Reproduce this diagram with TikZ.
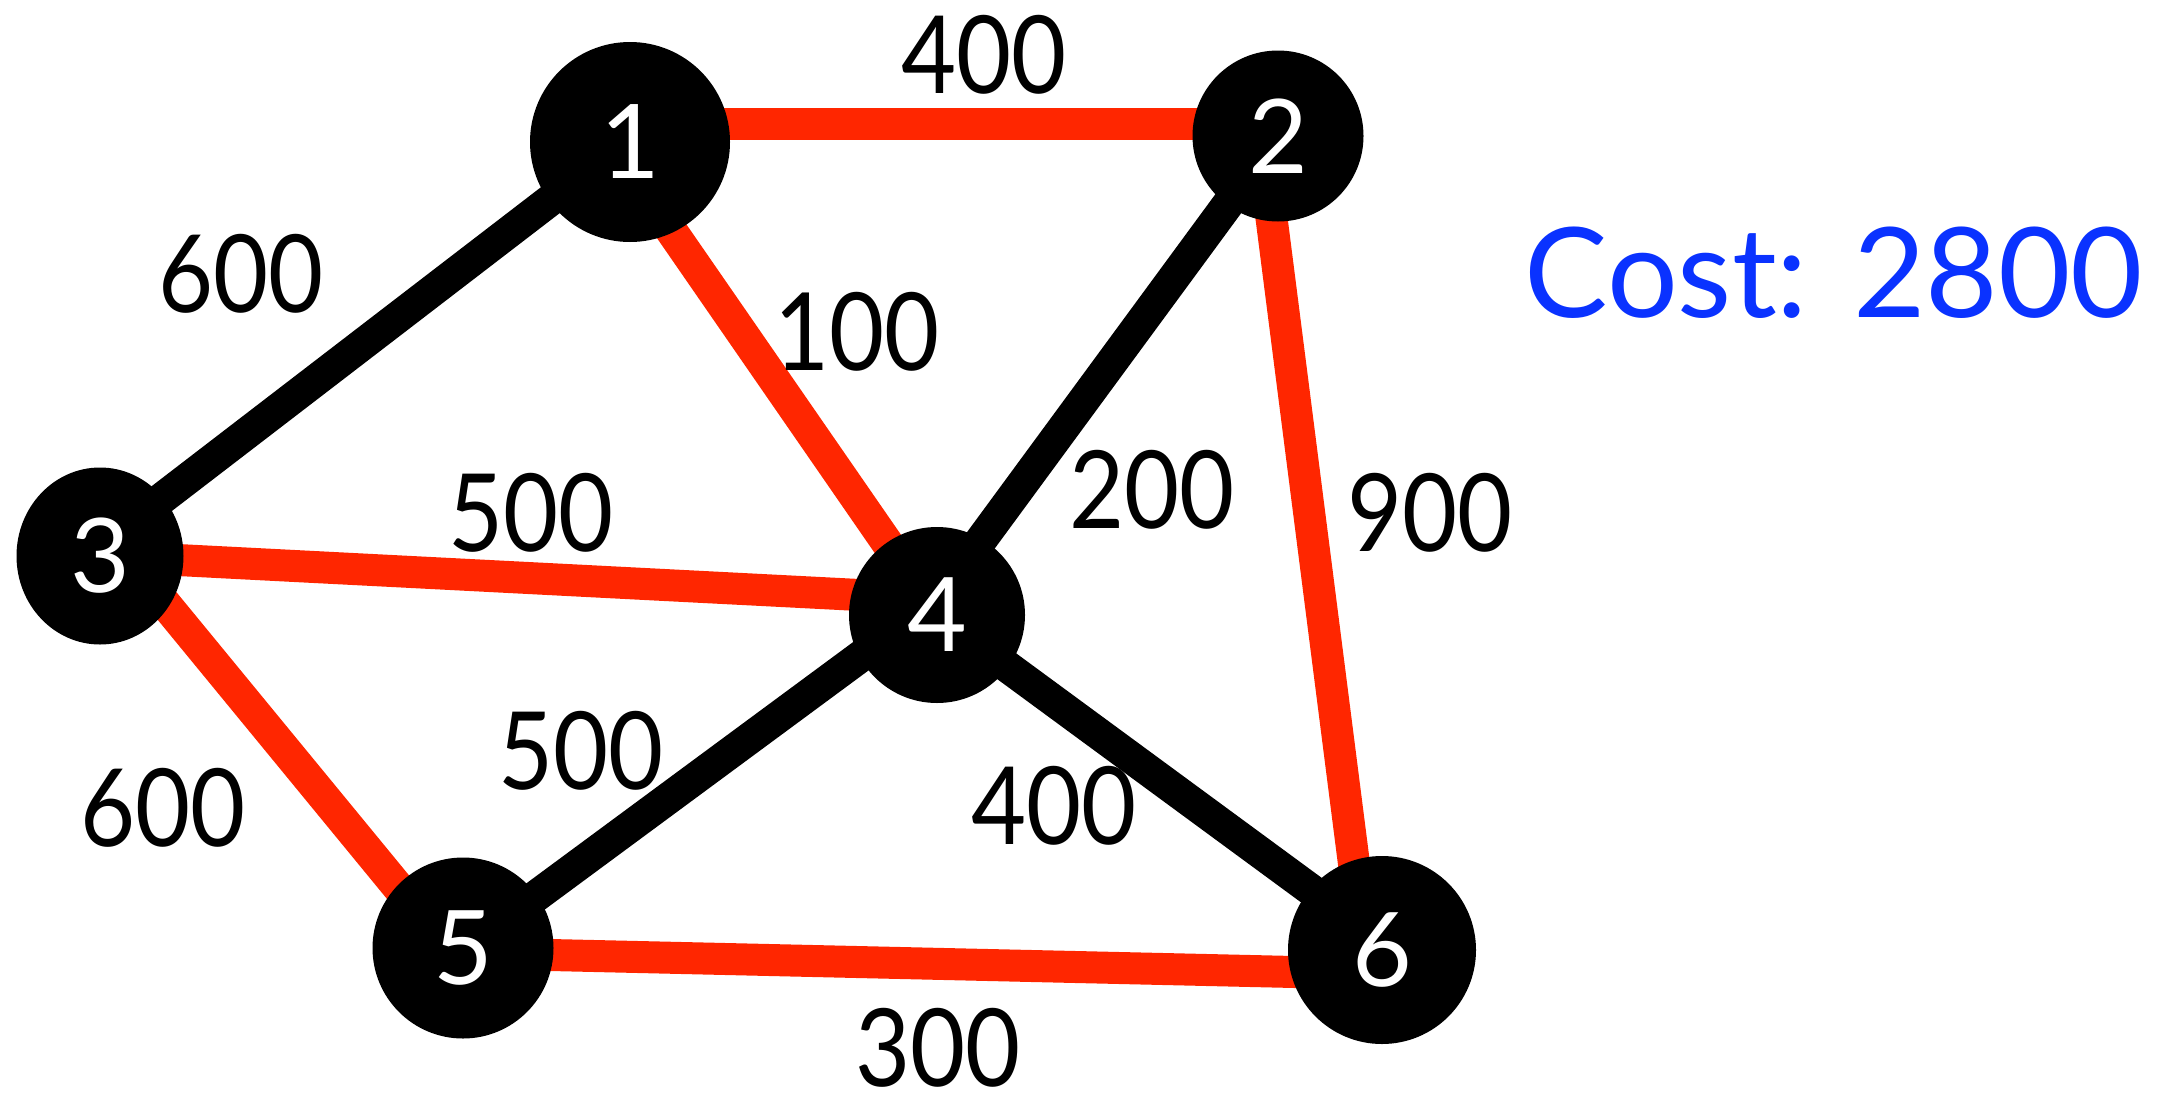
\documentclass[tikz,border=0pt]{standalone}
\usepackage{fontspec}
\usepackage{graphicx}
\setmainfont{Lato}
\usetikzlibrary{shapes.geometric,backgrounds}
\definecolor{treered}{RGB}{255,38,0}
\definecolor{costblue}{RGB}{10,50,255}
% narrow digit set for the weights
\newcommand{\narrow}[1]{\scalebox{0.88}[1]{#1}}
\tikzset{
  vtx/.style={circle, fill=black, text=white, inner sep=0pt,
    font=\fontsize{103}{103}\selectfont},
  wlabel/.style={inner sep=0pt, font=\fontsize{108}{108}\selectfont},
  treeedge/.style={draw=treered, line width=32pt},
  plainedge/.style={draw=black, line width=32pt}
}
\begin{document}
\begin{tikzpicture}[x=1pt, y=-1pt]
  \useasboundingbox (0,0) rectangle (2168,1100);

  % vertices
  \node[vtx, minimum size=200pt] (n1) at (630,142) {1};
  \node[vtx, minimum size=171pt] (n2) at (1278,136) {2};
  \node[vtx, ellipse, minimum width=167pt, minimum height=177pt] (n3) at (100,556) {3};
  \node[vtx, minimum size=176pt] (n4) at (937,615) {4};
  \node[vtx, minimum size=181pt] (n5) at (463,948) {5};
  \node[vtx, minimum size=188pt] (n6) at (1382,950) {6};

  % edges, kept behind the vertices
  \begin{pgfonlayer}{background}
    \draw[treeedge] ([shift={(0,-18)}]n1.center) -- ([shift={(0,-12)}]n2.center);
    \draw[treeedge] ([shift={(-20,0)}]n1.center) -- (n4.center);
    \draw[plainedge] ([shift={(0,-3)}]n1.center) -- ([shift={(0,-10)}]n3.center);
    \draw[plainedge] (n2.center) -- ([shift={(-11,0)}]n4.center);
    \draw[treeedge] ([shift={(-17,0)}]n2.center) -- ([shift={(-17,0)}]n6.center);
    \draw[treeedge] (n3.center) -- ([shift={(0,-16)}]n4.center);
    \draw[treeedge] ([shift={(26,0)}]n3.center) -- ([shift={(-15,0)}]n5.center);
    \draw[plainedge] ([shift={(0,2)}]n5.center) -- ([shift={(0,-15)}]n4.center);
    \draw[plainedge] (n4.center) -- ([shift={(0,-8)}]n6.center);
    \draw[treeedge] ([shift={(0,5)}]n5.center) -- ([shift={(0,24)}]n6.center);
  \end{pgfonlayer}

  % edge weights
  \node[wlabel] (w12) at (984,55)   {\narrow{400}};
  \node[wlabel] (w14) at (857,332)  {\narrow{100}};
  \node[wlabel] (w13) at (241,274)  {\narrow{600}};
  \node[wlabel] (w24) at (1152,490) {\narrow{200}};
  \node[wlabel] (w26) at (1430,513) {\narrow{900}};
  \node[wlabel] (w34) at (531,513)  {\narrow{500}};
  \node[wlabel] (w35) at (163,808)  {\narrow{600}};
  \node[wlabel] (w45) at (581,751)  {\narrow{500}};
  \node[wlabel] (w46) at (1054,806) {\narrow{400}};
  \node[wlabel] (w56) at (938,1048) {\narrow{300}};

  % total weight
  \node[inner sep=0pt, text=costblue, font=\fontsize{125}{125}\selectfont]
    (cost) at (1834,273) {Cost:\hspace{45pt}2800};
\end{tikzpicture}
\end{document}
